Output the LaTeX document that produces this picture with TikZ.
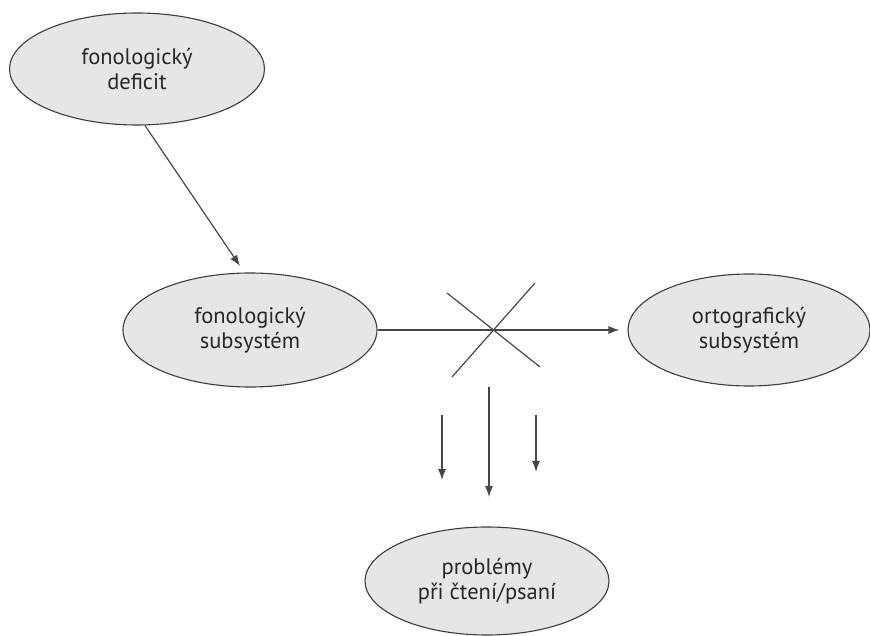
\documentclass[tikz,border=0pt]{standalone}
\usepackage{fontspec}
\setmainfont{PT Sans}
\usetikzlibrary{arrows.meta,shapes.geometric,calc}
\definecolor{bublina}{RGB}{230,230,230}
\definecolor{obrys}{RGB}{60,60,60}
\definecolor{cara}{RGB}{70,70,70}
\definecolor{pismo}{RGB}{40,40,40}

\begin{document}
\begin{tikzpicture}[x=1pt,y=1pt,
        bubble/.style={ellipse, draw=obrys, line width=1.1pt, fill=bublina, inner sep=0pt,
            text=pismo, align=center, font=\fontsize{22.5}{25}\selectfont},
        arr/.style={draw=cara, line width=1.2pt, -{Latex[length=11pt,width=8pt]}}]
            \useasboundingbox(0,0)rectangle(870,635);
            % ellipses
            \node[bubble, minimum width=255, minimum height=112](deficit)at(137,566){fonologický\\deficit};
            \node[bubble, minimum width=254, minimum height=114](fonsub)at(250,305){fonologický\\subsystém};
            \node[bubble, minimum width=242, minimum height=112](ortsub)at(749,305){ortografický\\subsystém};
            \node[bubble, minimum width=244, minimum height=108](probl)at(487,54){problémy\\při čtení/psaní};
            % arrow ends
            \coordinate(tip)at(240,369);
            \coordinate(cross)at(494,305);
            \coordinate(L)at(442,220);
            \coordinate(L')at(442,155);
            \coordinate(M)at(489,248);
            \coordinate(M')at(489,138);
            \coordinate(R)at(536,220);
            \coordinate(R')at(536,163);
            % arrows
            \path[arr](deficit.278)to(tip);
            \path[arr, shorten >=8pt](fonsub.east)to(ortsub.west);
            % the cross
            \path[draw=cara, line width=1.2pt]($(cross)+(-47,37)$)to($(cross)+(46,-37)$);
            \path[draw=cara, line width=1.2pt]($(cross)+(41,47)$)to($(cross)+(-42,-47)$);
            % down arrows
            \path[arr](L)to(L');
            \path[arr](M)to(M');
            \path[arr](R)to(R');
        \end{tikzpicture}
\end{document}
